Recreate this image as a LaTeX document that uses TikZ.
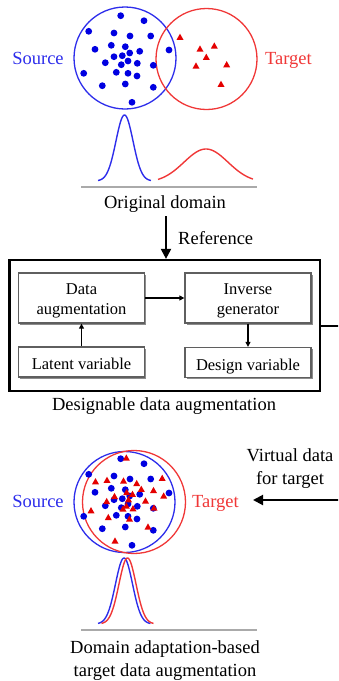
\documentclass[tikz,border=0pt]{standalone}
\usepackage{fontspec}
\setmainfont{Liberation Serif}
\usetikzlibrary{arrows.meta,shadows}

\definecolor{srcblue}{RGB}{45,45,235}
\definecolor{dotblue}{RGB}{0,0,225}
\definecolor{tgtred}{RGB}{240,55,55}
\definecolor{trired}{RGB}{228,0,0}
\definecolor{rulegray}{RGB}{170,170,170}
\definecolor{boxgray}{RGB}{95,95,95}

% a small red triangle centred on (#1,#2)
\newcommand\redtri[2]{\fill[trired] (#1,#2) ++(0,-3.6) -- ++(3.5,6.2) -- ++(-7,0) -- cycle;}
% raises the first line of a two-line box label
\newcommand\toprule{\rule{0pt}{17.5pt}}

\begin{document}
\begin{tikzpicture}[x=1pt,y=-1pt,
  lbl/.style={font=\fontsize{18.5}{22.5}\selectfont, inner sep=0pt},
  boxtxt/.style={font=\fontsize{16.5}{20}\selectfont},
  stepbox/.style={draw=boxgray, line width=1.3pt, fill=white, inner sep=0pt,
    minimum width=126pt, align=center, boxtxt,
    drop shadow={shadow xshift=1.8pt, shadow yshift=-1.8pt, fill=black!45, opacity=1}},
  onelinebox/.style={stepbox, minimum height=30pt, text height=16pt, text depth=1pt},
  twolinebox/.style={stepbox, minimum height=50pt},
  bigarrow/.style={line width=2pt, -{Triangle[length=10pt,width=10pt]}},
  smallarrow/.style={line width=1.2pt, -{Triangle[length=5pt,width=5pt]}},
  distline/.style={line width=1.4pt},
  ring/.style={line width=1.3pt},
  baseline/.style={draw=rulegray, line width=2pt}]

\useasboundingbox (0,0) rectangle (338,681);
\clip (0,0) rectangle (338,681);

% ---------------- original domain ----------------
\draw[ring, srcblue] (125,58) circle (51pt);
\draw[ring, tgtred] (206.5,59) circle (50.5pt);

\foreach \a/\b in {120.7/15.7,144/20.7,88.7/31.3,114/33,130/36,150.7/36,
  111.3/45.3,125.3/46.7,95/49.3,169/50,139.7/51.3,129.7/53,114/56.7,122.3/55.7,
  105.3/62.7,128/61,137.3/63.3,121.3/64.7,153.3/65.3,83.7/73.3,116.3/72.3,
  128/73.3,137/76,102.3/85.7,125.3/84,153.3/87.3,132/102.3}
  {\fill[dotblue] (\a,\b) circle (3.4pt);}

\foreach \a/\b in {180/37.3,200/49,214.3/46,206.3/57.3,196/66,226.7/64.7,221/84.3}
  {\redtri{\a}{\b}}

\node[lbl, text=srcblue, anchor=base] (srcA) at (38,64) {Source};
\node[lbl, text=tgtred, anchor=base] (tgtA) at (288.5,64) {Target};

\draw[distline, srcblue] plot[domain=98:151, samples=80, smooth]
  (\x, {181-66*exp(-((\x-124.5)^2)/145)});
\draw[distline, tgtred] plot[domain=158:253, samples=80, smooth]
  (\x, {182.5-33.5*exp(-((\x-206)^2)/968)});

\draw[baseline] (81,187) -- (257,187);
\node[lbl, anchor=base] (origLbl) at (165,208) {Original domain};

% ---------------- designable data augmentation ----------------
\node[draw, line width=2.2pt, minimum width=310.5pt, minimum height=131pt,
  inner sep=0pt] (outer) at (164.75,325.5) {};

\coordinate (refTop) at (166,216);
\draw[bigarrow] (refTop) -- (refTop |- outer.north);
\node[lbl, anchor=base west] (refLbl) at (178,244) {Reference};

\node[twolinebox] (data) at (81.5,298) {\toprule Data\\augmentation};
\node[twolinebox] (inv) at (248,298) {\toprule Inverse\\generator};
\node[onelinebox] (latent) at (81.5,362) {Latent variable};
\node[onelinebox] (design) at (248,362.5) {Design variable};

\draw[smallarrow] (latent) -- (data);
\draw[smallarrow] (data) -- (inv);
\draw[smallarrow] (inv) -- (design);

\node[lbl, anchor=base] (ddaLbl) at (164,410) {Designable data augmentation};

% ---------------- virtual data fed back ----------------
\coordinate (vdTip) at (253,500);
\draw[bigarrow] (outer.east) -- (346,325.5) -- (346,500) -- (vdTip);
\node[lbl, align=center, anchor=base] (vdLbl) at (290,484) {Virtual data\\for target};

% ---------------- adapted domain ----------------
\draw[ring, srcblue] (124.5,502) circle (50.5pt);
\draw[ring, tgtred] (134,502) circle (51.5pt);

\foreach \a/\b in {120.7/15.7,144/20.7,88.7/31.3,114/33,130/36,150.7/36,
  111.3/45.3,125.3/46.7,95/49.3,169/50,139.7/51.3,129.7/53,114/56.7,122.3/55.7,
  105.3/62.7,128/61,137.3/63.3,121.3/64.7,153.3/65.3,83.7/73.3,116.3/72.3,
  128/73.3,137/76,102.3/85.7,125.3/84,153.3/87.3,132/102.3}
  {\fill[dotblue] (\a,\b+443) circle (3.4pt);}

\foreach \a/\b in {126.3/458,95.5/481.7,107/480.3,123.5/481,136.7/483.5,
  162.2/478.3,141.3/489.3,153.5/490.5,126.7/492.5,132.5/494.3,163.7/496,
  106.7/501.5,114.5/496.5,128.5/499.7,145.5/501,126.3/506,133/508.7,123/509,
  154/508,91/510.7,108.3/517.5,129.5/519,148/527,115/541}
  {\redtri{\a}{\b}}

\node[lbl, text=srcblue, anchor=base] (srcB) at (38,507) {Source};
\node[lbl, text=tgtred, anchor=base] (tgtB) at (215.5,507) {Target};

\draw[distline, srcblue] plot[domain=98:150.5, samples=80, smooth]
  (\x, {624-66*exp(-((\x-124)^2)/145)});
\draw[distline, tgtred] plot[domain=101.5:153.5, samples=80, smooth]
  (\x, {624-66*exp(-((\x-127.5)^2)/145)});

\draw[baseline] (81,630) -- (257,630);
\node[lbl, align=center, anchor=base] (daLbl) at (165,676)
  {Domain adaptation-based\\target data augmentation};

\end{tikzpicture}
\end{document}
